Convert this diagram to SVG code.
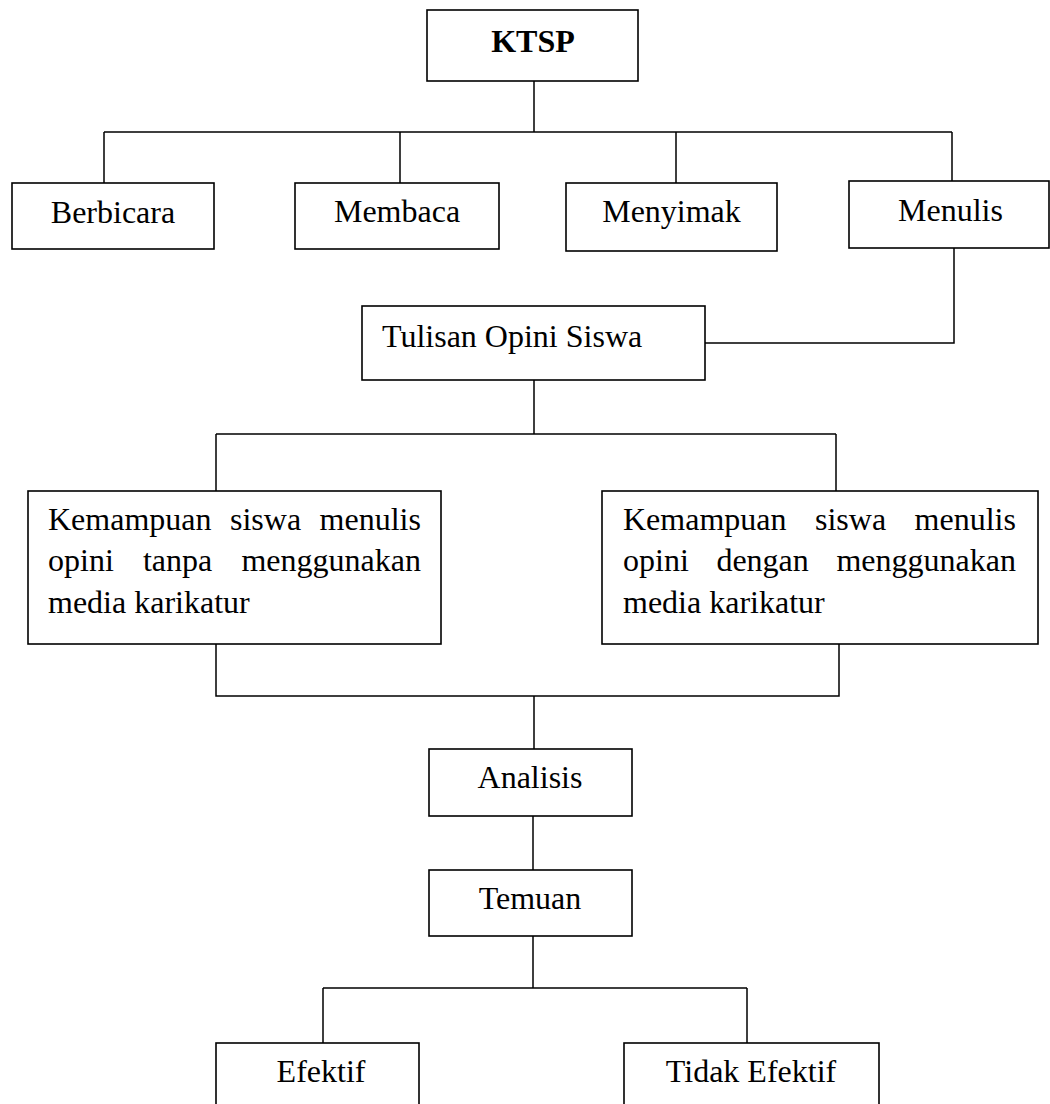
<svg xmlns="http://www.w3.org/2000/svg" width="1050" height="1104" viewBox="0 0 1050 1104">
<style>
.box{fill:#fff;stroke:#000;stroke-width:1.6}
.ln{fill:none;stroke:#000;stroke-width:1.5}
text{font-family:"Liberation Serif","Times New Roman",serif;font-size:32px;fill:#000}
.c{text-anchor:middle}
.b{font-weight:bold}
</style>
<rect width="1050" height="1104" fill="#fff"/>
<g id="connectors">
<path class="ln" d="M534 81V132M104 132H952M104 132V183M400 132V183M676 132V183M952 132V181"/>
<path class="ln" d="M954 248V343H705"/>
<path class="ln" d="M534 380V434M216 434H836M216 434V491M836 434V491"/>
<path class="ln" d="M216 644V696H839V644M534 696V749"/>
<path class="ln" d="M533 816V870"/>
<path class="ln" d="M533 936V988M323 988H747M323 988V1043M747 988V1043"/>
</g>
<g id="ktsp"><rect class="box" x="427" y="10" width="211" height="71"/><text class="c b" x="533" y="52">KTSP</text></g>
<g id="berbicara"><rect class="box" x="12" y="183" width="202" height="66"/><text class="c" x="113" y="223">Berbicara</text></g>
<g id="membaca"><rect class="box" x="295" y="183" width="204" height="66"/><text class="c" x="397" y="222">Membaca</text></g>
<g id="menyimak"><rect class="box" x="566" y="183" width="211" height="68"/><text class="c" x="671.5" y="222">Menyimak</text></g>
<g id="menulis"><rect class="box" x="849" y="181" width="200" height="67"/><text class="c" x="950.5" y="221">Menulis</text></g>
<g id="tulisan"><rect class="box" x="362" y="306" width="343" height="74"/><text x="382" y="347">Tulisan Opini Siswa</text></g>
<g id="tanpa"><rect class="box" x="28" y="491" width="413" height="153"/>
<text x="48" y="530" style="word-spacing:10.5px">Kemampuan siswa menulis</text>
<text x="48" y="571" style="word-spacing:21.2px">opini tanpa menggunakan</text>
<text x="48" y="613">media karikatur</text></g>
<g id="dengan"><rect class="box" x="602" y="491" width="436" height="153"/>
<text x="623" y="530" style="word-spacing:20.5px">Kemampuan siswa menulis</text>
<text x="623" y="571" style="word-spacing:19.6px">opini dengan menggunakan</text>
<text x="623" y="613">media karikatur</text></g>
<g id="analisis"><rect class="box" x="429" y="749" width="203" height="67"/><text class="c" x="530" y="788">Analisis</text></g>
<g id="temuan"><rect class="box" x="429" y="870" width="203" height="66"/><text class="c" x="530" y="909">Temuan</text></g>
<g id="efektif"><rect class="box" x="216" y="1043" width="203" height="90"/><text class="c" x="321" y="1082">Efektif</text></g>
<g id="tidak"><rect class="box" x="624" y="1043" width="255" height="90"/><text class="c" x="751" y="1082">Tidak Efektif</text></g>
</svg>
